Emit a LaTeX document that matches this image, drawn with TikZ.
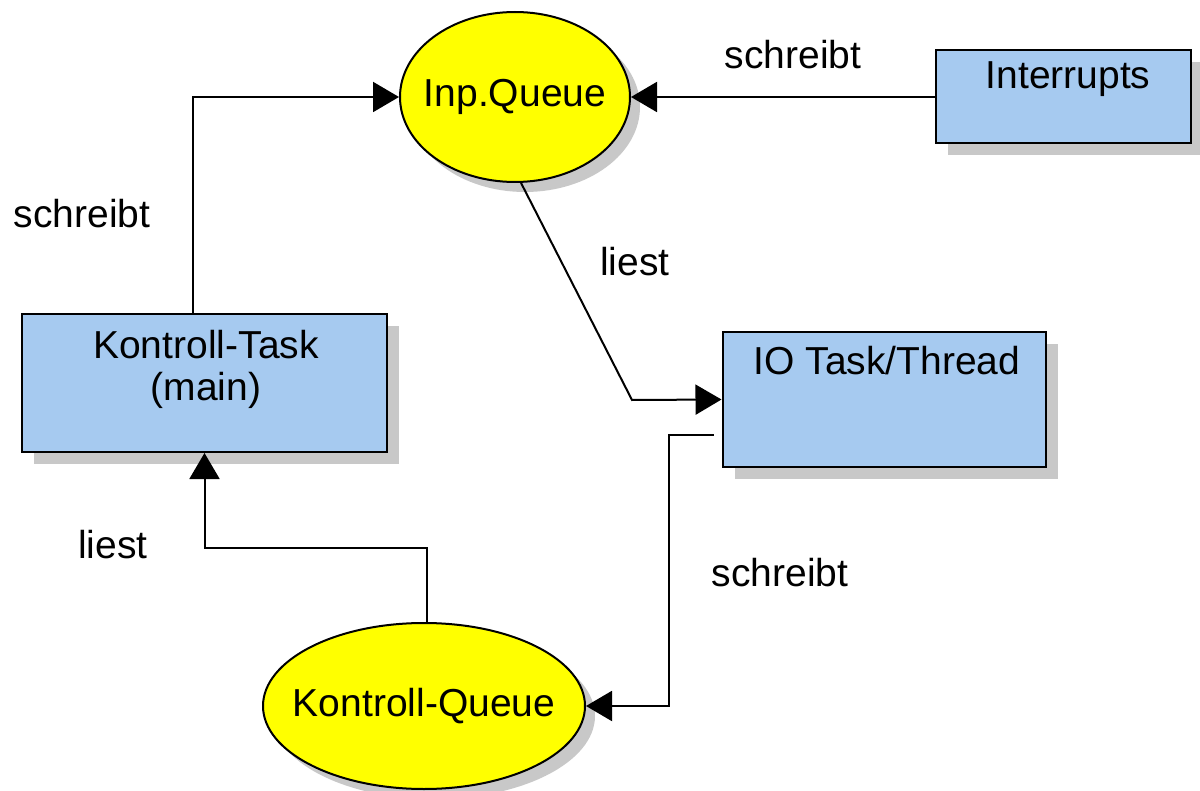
\documentclass[tikz,border=0pt]{standalone}
\usepackage{fontspec}
\setmainfont{Liberation Sans}
\usepackage{tikz}
\usetikzlibrary{shapes, arrows.meta, shadows, calc}
\definecolor{taskblue}{RGB}{166,202,240}
\definecolor{queueyellow}{RGB}{255,255,0}
\definecolor{shadowgray}{RGB}{200,200,200}

\begin{document}
\begin{tikzpicture}[x=0.5pt, y=-0.5pt,
	every node/.style={font=\fontsize{19.5}{21}\selectfont},
	task/.style={draw, line width=1pt, fill=taskblue, inner sep=0pt, drop shadow={shadow xshift=6pt, shadow yshift=-6pt, fill=shadowgray, opacity=1}},
	queue/.style={ellipse, draw, line width=1pt, fill=queueyellow, inner sep=0pt, drop shadow={shadow xshift=5pt, shadow yshift=-5pt, fill=shadowgray, opacity=1}},
	pfeil/.style={line width=1pt, -{Triangle[length=13pt, width=15pt]}}]
			\useasboundingbox (0,0) rectangle (1200,791);
			
			% Queues
			\node (iq) [queue, minimum width=115pt, minimum height=85pt, label=center:Inp.Queue] at (515,97) {};
			\node (kq) [queue, minimum width=161pt, minimum height=83pt, label=center:Kontroll-Queue] at (424,706) {};
			
			% Tasks
			\node (kt) [task, minimum width=182.5pt, minimum height=69pt] at (204.5,383) {};
			\node (io) [task, minimum width=161.5pt, minimum height=67.5pt] at (884,399.5) {};
			\node (intr) [task, minimum width=127.5pt, minimum height=46.5pt] at (1063,97) {};
			\node (kttext) [align=center] at (206,369) {Kontroll-Task\\(main)};
			\node (iotext) at (887,361) {IO Task/Thread};
			\node (intrtext) at (1068,79) {Interrupts};
			
			% Verbindungen
			\coordinate (knick1) at (632,400);
			\coordinate (knick2) at (669,706);
			\coordinate (knick3) at (300,548);
			\draw [pfeil] ([xshift=-6pt]kt.north) |- (iq.west);
			\draw [pfeil] (intr.west) -- (iq.east);
			\draw [pfeil] (iq.-86) -- (knick1) -- (io.west);
			\draw [pfeil] ([shift={(-4pt,-17.75pt)}]io.west) -| (knick2) -- (kq.east);
			\draw [pfeil] ([xshift=1.5pt]kq.north) |- (knick3) -| (kt.south);
			
			% Beschriftungen
			\foreach \nm/\xpos/\ypos/\txt in {s1/82/214/schreibt, s2/793/55/schreibt, s3/780/573/schreibt, l1/635/262/liest, l2/113/545/liest}
			\node (\nm) at (\xpos,\ypos) {\txt};
\end{tikzpicture}
\end{document}
